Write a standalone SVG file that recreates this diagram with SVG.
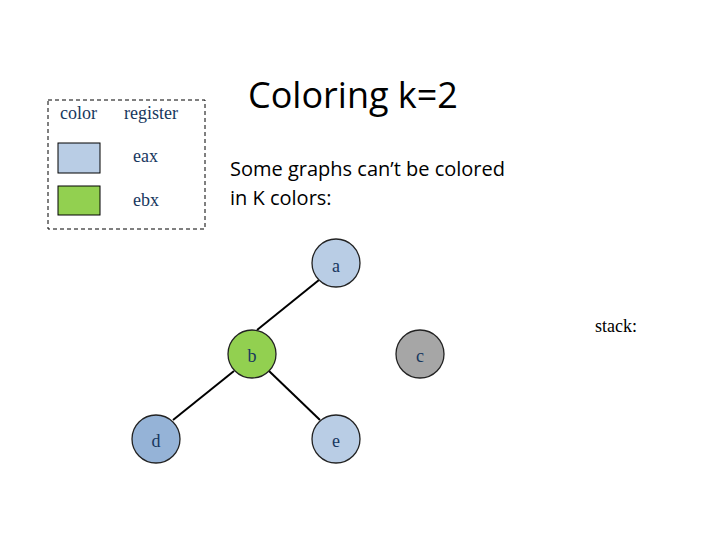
<svg xmlns="http://www.w3.org/2000/svg" width="720" height="540" viewBox="0 0 720 540">
<style>
.s{font-family:"Liberation Serif",serif;fill:#17375e;font-size:18px}
.n{stroke:#222;stroke-width:1.3}
.c{font-family:"Open Sans","Liberation Sans",sans-serif;fill:#000}
</style>
<rect width="720" height="540" fill="#fff"/>
<g id="legend">
<rect x="48" y="100" width="157" height="129" fill="none" stroke="#000" stroke-dasharray="4,3"/>
<text class="s" x="60" y="119">color</text>
<text class="s" x="124" y="119">register</text>
<rect x="58" y="143" width="42" height="30" fill="#b9cde5" stroke="#000"/>
<rect x="58" y="186" width="42" height="29" fill="#92d050" stroke="#000"/>
<text class="s" x="133" y="162">eax</text>
<text class="s" x="133" y="206">ebx</text>
</g>
<text class="c" x="248" y="108" font-size="36">Coloring k=2</text>
<text class="c" x="230" y="176" font-size="20">Some graphs can’t be colored</text>
<text class="c" x="230" y="205" font-size="20">in K colors:</text>
<text class="s" x="595" y="332" font-size="20" fill="#000" style="fill:#000">stack:</text>
<g id="edges" stroke="#000" stroke-width="2">
<line x1="319" y1="280" x2="257" y2="330"/>
<line x1="234" y1="371" x2="173" y2="420"/>
<line x1="269" y1="371" x2="320" y2="420"/>
</g>
<g id="a"><circle class="n" cx="336" cy="263" r="24" fill="#b9cde5"/><text class="s" x="336" y="272" text-anchor="middle">a</text></g>
<g id="b"><circle class="n" cx="252" cy="354" r="24" fill="#92d050"/><text class="s" x="252" y="362" text-anchor="middle">b</text></g>
<g id="c"><circle class="n" cx="420" cy="354" r="24" fill="#a6a6a6"/><text class="s" x="420" y="362" text-anchor="middle">c</text></g>
<g id="d"><circle class="n" cx="156" cy="439" r="24" fill="#95b3d7"/><text class="s" x="156" y="447" text-anchor="middle">d</text></g>
<g id="e"><circle class="n" cx="336" cy="439" r="24" fill="#b9cde5"/><text class="s" x="336" y="447" text-anchor="middle">e</text></g>
</svg>
